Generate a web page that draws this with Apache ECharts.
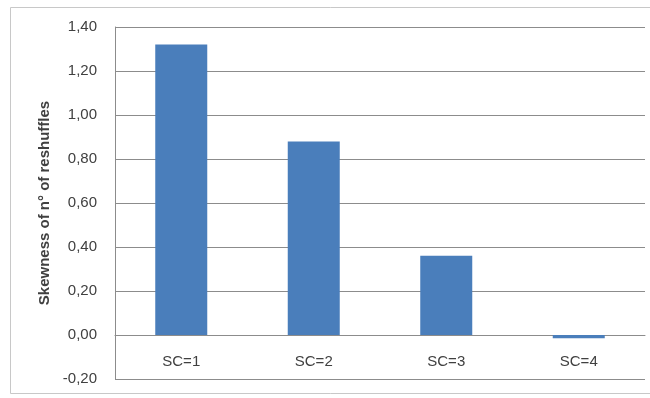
<!DOCTYPE html>
<html>
<head>
<meta charset="utf-8">
<script src="https://cdn.jsdelivr.net/npm/echarts@6/dist/echarts.min.js"></script>
<style>
  html, body { margin: 0; padding: 0; background: #fff; }
  #chart { width: 650px; height: 398px; }
</style>
</head>
<body>
<div id="chart"></div>
<script>
// data
const categories = ['SC=1', 'SC=2', 'SC=3', 'SC=4']
const skewness = [1.32, 0.88, 0.36, -0.015]
const yTicks = { min: -0.2, max: 1.4, interval: 0.2 }

const textColor = '#404040'
const lineColor = '#8c8c8c'
const font = 'Liberation Sans, Arial, sans-serif'

const chart = echarts.init(document.getElementById('chart'))
chart.setOption({
  animation: false,
  backgroundColor: '#fff',
  // outer chart-area frame like the Excel original
  graphic: [{
    type: 'rect',
    silent: true,
    z: -1,
    shape: { x: 10.5, y: 7.5, width: 660, height: 386 },
    style: { fill: 'none', stroke: '#c8c8c8', lineWidth: 1 }
  }],
  grid: { left: 115, right: 5, top: 27, bottom: 19, outerBoundsMode: 'none', containLabel: false },
  xAxis: {
    type: 'category',
    data: categories,
    axisLine: { onZero: true, lineStyle: { color: lineColor } },
    axisTick: { show: false },
    // labels sit just under the zero line, not at the grid bottom
    axisLabel: { color: textColor, fontFamily: font, fontSize: 15, margin: -25 }
  },
  yAxis: {
    type: 'value',
    min: yTicks.min,
    max: yTicks.max,
    interval: yTicks.interval,
    name: 'Skewness of n° of reshuffles',
    nameLocation: 'middle',
    nameGap: 58,
    nameTextStyle: { color: textColor, fontFamily: font, fontSize: 15, fontWeight: 'bold' },
    axisLine: { show: true, lineStyle: { color: lineColor } },
    axisTick: { show: false },
    splitLine: { lineStyle: { color: lineColor } },
    axisLabel: {
      color: textColor, fontFamily: font, fontSize: 15, margin: 18,
      formatter: v => {
        const r = Math.abs(v) < 1e-9 ? 0 : v
        return r.toFixed(2).replace('.', ',')
      }
    }
  },
  series: [{
    type: 'bar',
    data: skewness,
    barWidth: 52,
    itemStyle: { color: '#4a7ebb' }
  }]
})
</script>
</body>
</html>
